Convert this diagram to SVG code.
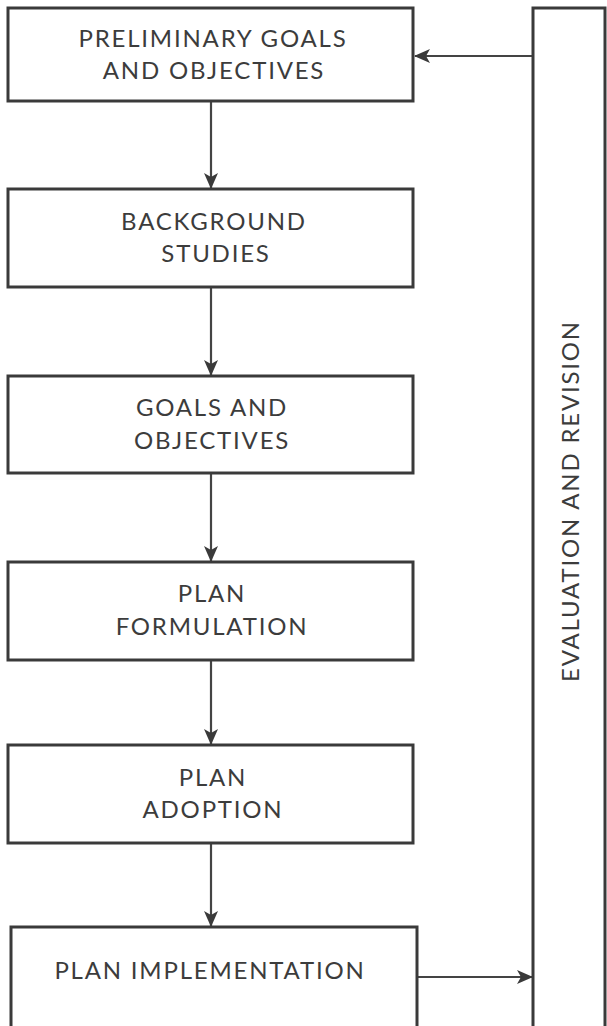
<svg xmlns="http://www.w3.org/2000/svg" width="607" height="1026" viewBox="0 0 607 1026">
<defs>
<style>
.box{fill:#fff;stroke:#3a3a3a;stroke-width:3}
.lbl{font-family:Lato,"Liberation Sans",sans-serif;font-size:24px;font-weight:400;fill:#3c3c3c;text-anchor:middle;letter-spacing:1.8px}
.con{fill:none;stroke:#444;stroke-width:2.2}
</style>
<marker id="ah" viewBox="0 0 16 14" refX="15" refY="7" markerWidth="16" markerHeight="14" markerUnits="userSpaceOnUse" orient="auto">
<path d="M0,0 L16,7 L0,14 L4,7 z" fill="#3a3a3a"/>
</marker>
</defs>
<rect width="607" height="1026" fill="#fff"/>
<g id="connectors">
<line class="con" x1="211" y1="101" x2="211" y2="188" marker-end="url(#ah)"/>
<line class="con" x1="211" y1="287" x2="211" y2="375" marker-end="url(#ah)"/>
<line class="con" x1="211" y1="473" x2="211" y2="561" marker-end="url(#ah)"/>
<line class="con" x1="211" y1="660" x2="211" y2="744" marker-end="url(#ah)"/>
<line class="con" x1="211" y1="843" x2="211" y2="926" marker-end="url(#ah)"/>
<line class="con" x1="533" y1="56" x2="415" y2="56" marker-end="url(#ah)"/>
<line class="con" x1="417" y1="977" x2="532" y2="977" marker-end="url(#ah)"/>
</g>
<g id="n1"><rect class="box" x="8" y="8" width="405" height="93"/>
<text class="lbl" x="213" y="47">PRELIMINARY GOALS</text>
<text class="lbl" x="214" y="79">AND OBJECTIVES</text></g>
<g id="n2"><rect class="box" x="8" y="189" width="405" height="98"/>
<text class="lbl" x="214" y="230">BACKGROUND</text>
<text class="lbl" x="216" y="262">STUDIES</text></g>
<g id="n3"><rect class="box" x="8" y="376" width="405" height="97"/>
<text class="lbl" x="212" y="416">GOALS AND</text>
<text class="lbl" x="212" y="449">OBJECTIVES</text></g>
<g id="n4"><rect class="box" x="8" y="562" width="405" height="98"/>
<text class="lbl" x="212" y="602">PLAN</text>
<text class="lbl" x="212" y="635">FORMULATION</text></g>
<g id="n5"><rect class="box" x="8" y="745" width="405" height="98"/>
<text class="lbl" x="213" y="786">PLAN</text>
<text class="lbl" x="213" y="818">ADOPTION</text></g>
<g id="n6"><rect class="box" x="11" y="927" width="406" height="110"/>
<text class="lbl" x="210" y="979">PLAN IMPLEMENTATION</text></g>
<g id="n7"><rect class="box" x="533" y="8" width="72" height="1030"/>
<text class="lbl" transform="translate(579,501) rotate(-90)" x="0" y="0">EVALUATION AND REVISION</text></g>
</svg>
